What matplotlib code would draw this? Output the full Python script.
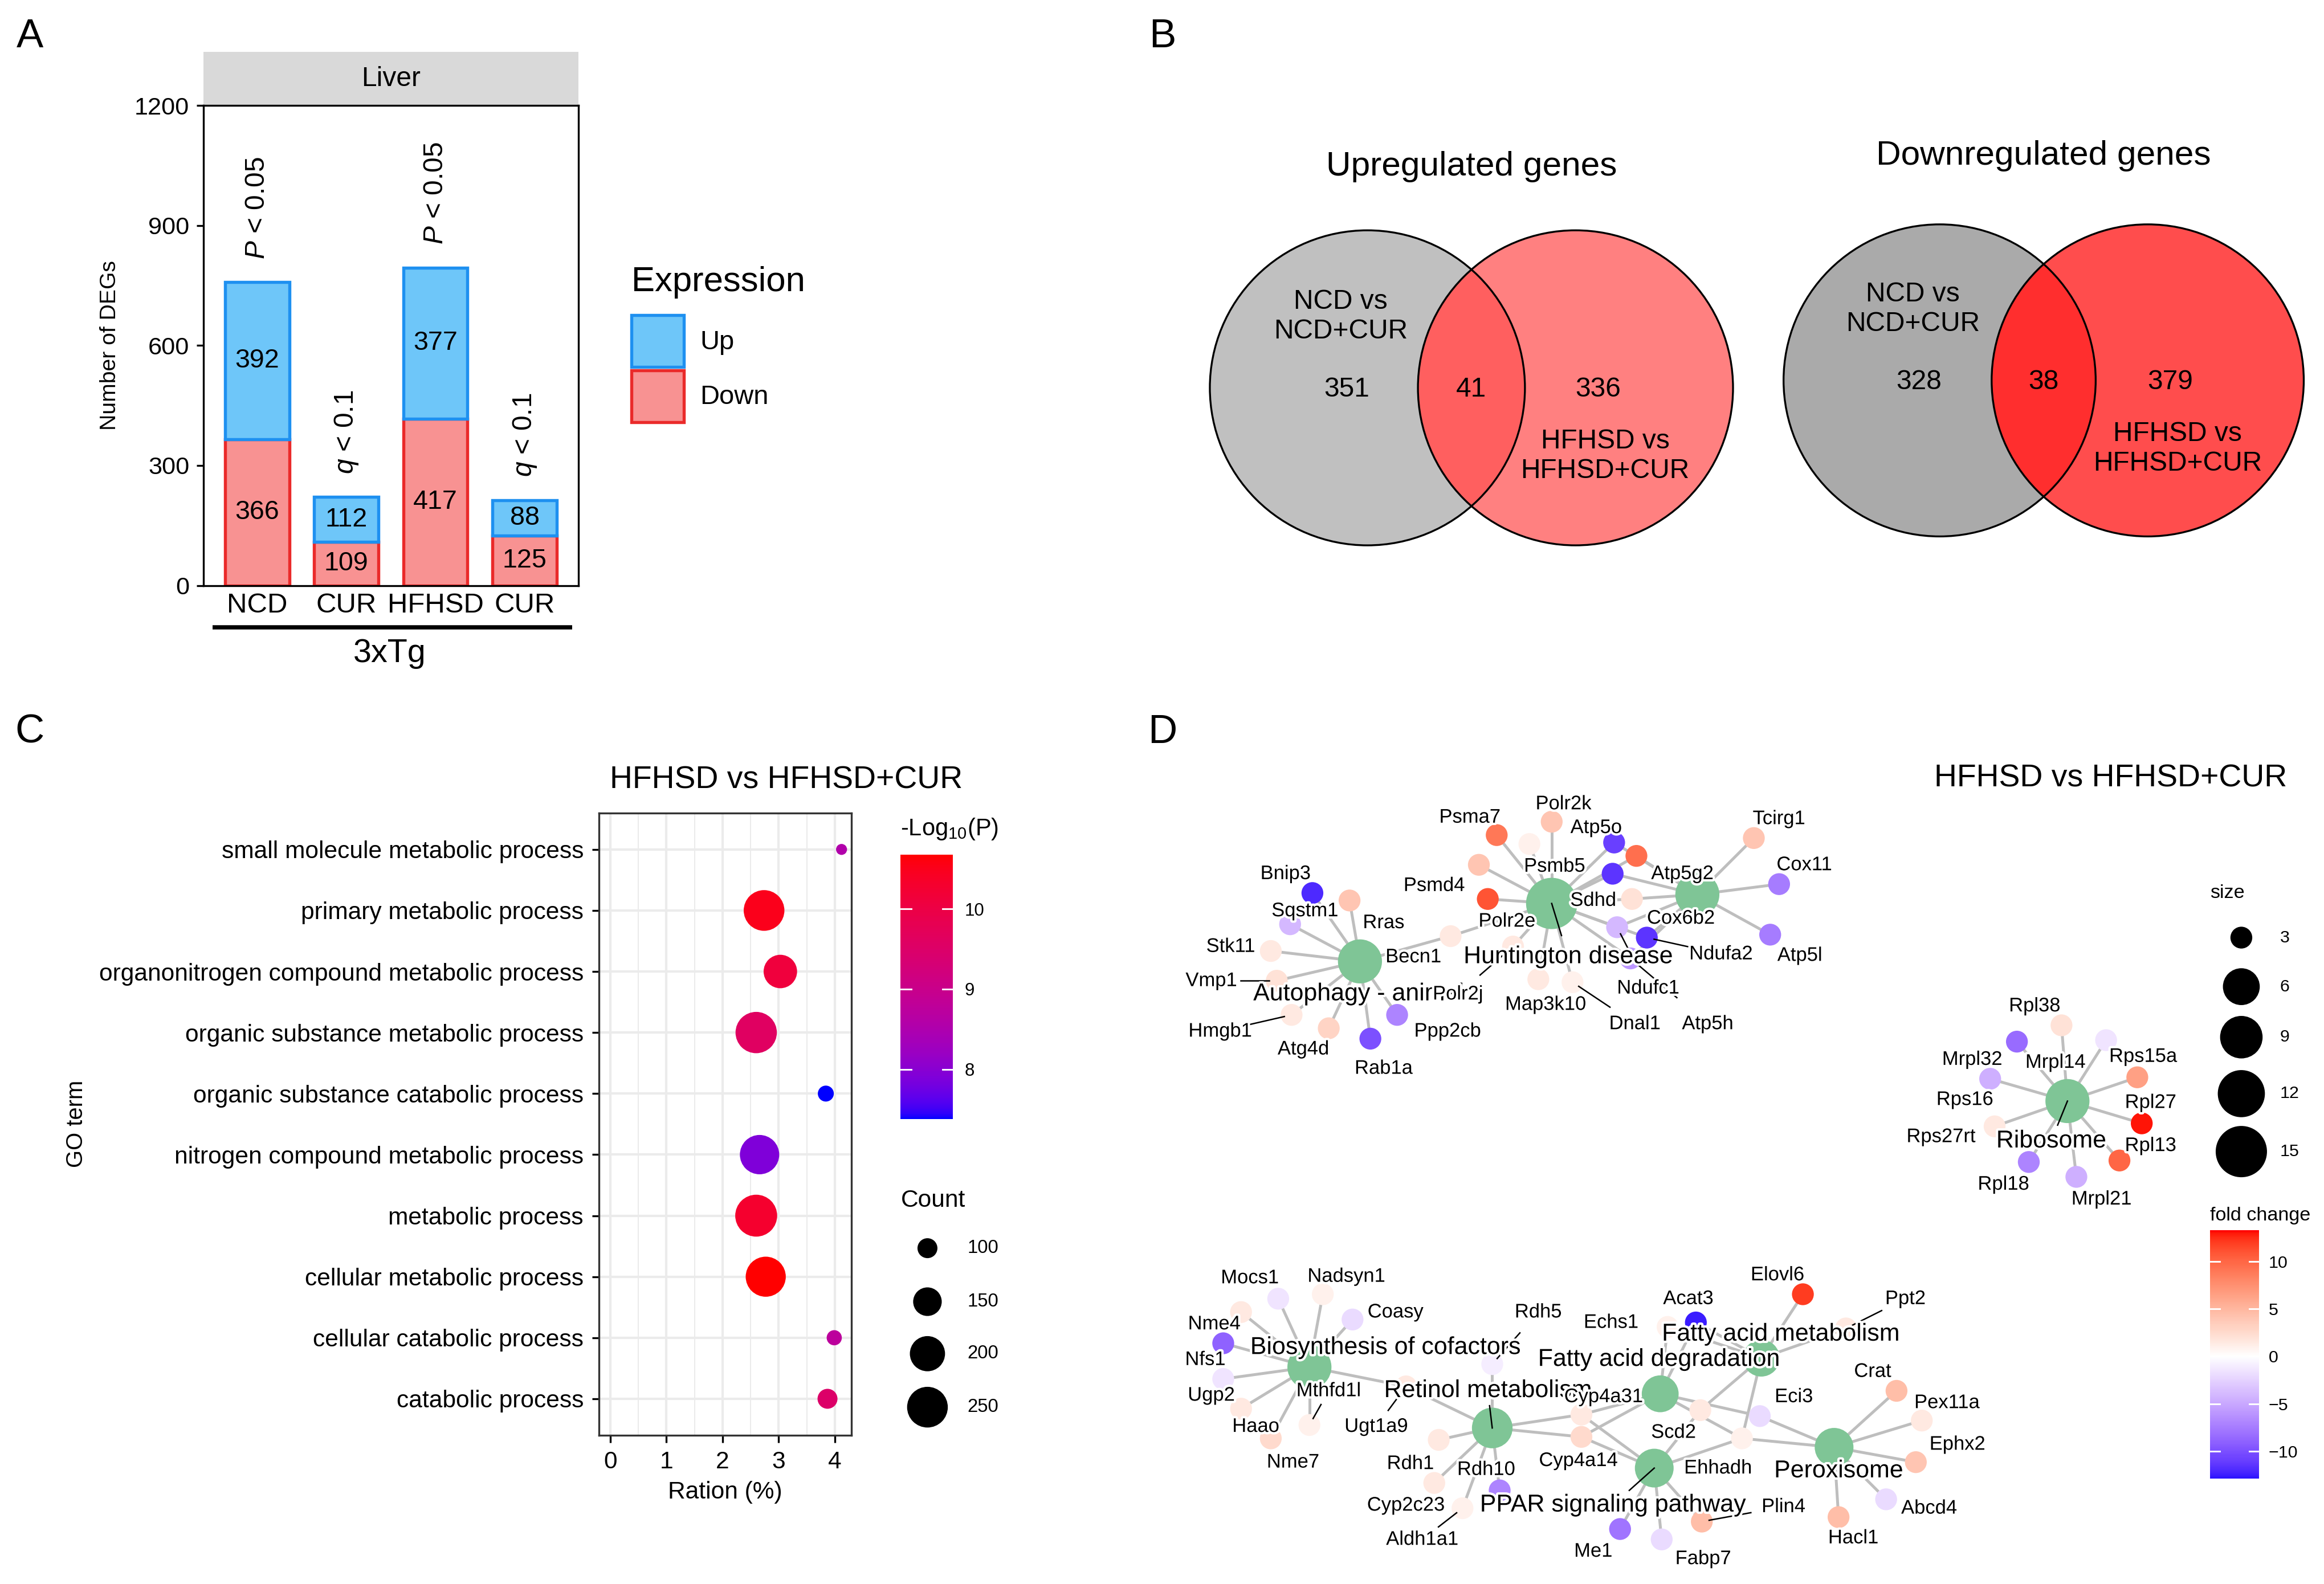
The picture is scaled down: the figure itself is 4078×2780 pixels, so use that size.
import numpy as np
import matplotlib
matplotlib.use('Agg')
import matplotlib.pyplot as plt
from matplotlib.colors import ListedColormap, Normalize
from matplotlib.cm import ScalarMappable
from matplotlib.patches import Circle, Rectangle, Patch
import matplotlib.patheffects as pe

plt.rcParams['font.family'] = ['Liberation Sans', 'DejaVu Sans']
plt.rcParams['mathtext.fontset'] = 'custom'
plt.rcParams['mathtext.rm'] = 'Liberation Sans'
plt.rcParams['mathtext.it'] = 'Liberation Sans:italic'

# ---------------- data ----------------
# A: number of DEGs
groups = ['NCD', 'CUR', 'HFHSD', 'CUR']
deg_down = [366, 109, 417, 125]
deg_up = [392, 112, 377, 88]
cutoffs = ['$P$ < 0.05', '$q$ < 0.1', '$P$ < 0.05', '$q$ < 0.1']

# B: venn counts
venn_titles = ['Upregulated genes', 'Downregulated genes']
only_ncd = [351, 328]
shared = [41, 38]
only_hfhsd = [336, 379]

# C: GO enrichment (top to bottom)
go_terms = ['small molecule metabolic process', 'primary metabolic process',
            'organonitrogen compound metabolic process', 'organic substance metabolic process',
            'organic substance catabolic process', 'nitrogen compound metabolic process',
            'metabolic process', 'cellular metabolic process', 'cellular catabolic process',
            'catabolic process']
go_ratio = [4.12, 2.74, 3.03, 2.60, 3.84, 2.66, 2.60, 2.77, 3.99, 3.87]
go_count = [67, 250, 186, 256, 83, 237, 262, 244, 80, 100]
go_logp = [8.55, 10.5, 10.1, 9.6, 7.38, 7.9, 10.3, 10.68, 8.75, 9.5]

# D: KEGG gene-concept network
pathways = {
    'Autophagy - animal': ['Bnip3', 'Rras', 'Sqstm1', 'Stk11', 'Vmp1', 'Hmgb1', 'Atg4d',
                           'Rab1a', 'Ppp2cb', 'Becn1'],
    'Huntington disease': ['Becn1', 'Psma7', 'Polr2k', 'Psmb5', 'Psmd4', 'Polr2e', 'Polr2j',
                           'Map3k10', 'Dnal1', 'Atp5o', 'Atp5g2', 'Cox6b2', 'Sdhd', 'Ndufc1',
                           'Ndufa2', 'Atp5h'],
    'Oxidative phosphorylation': ['Atp5o', 'Atp5g2', 'Cox6b2', 'Sdhd', 'Ndufc1', 'Ndufa2',
                                  'Atp5h', 'Tcirg1', 'Cox11', 'Atp5l'],
    'Ribosome': ['Rpl38', 'Mrpl32', 'Mrpl14', 'Rps15a', 'Rpl27', 'Rpl13', 'Mrpl21', 'Rpl18',
                 'Rps27rt', 'Rps16'],
    'Biosynthesis of cofactors': ['Mocs1', 'Nadsyn1', 'Coasy', 'Nme4', 'Nfs1', 'Ugp2', 'Haao',
                                  'Nme7', 'Mthfd1l', 'Ugt1a9'],
    'Retinol metabolism': ['Ugt1a9', 'Rdh5', 'Rdh1', 'Cyp2c23', 'Rdh10', 'Aldh1a1', 'Cyp4a14',
                           'Cyp4a31'],
    'Fatty acid degradation': ['Cyp4a14', 'Cyp4a31', 'Echs1', 'Acat3', 'Eci3', 'Ehhadh'],
    'Fatty acid metabolism': ['Echs1', 'Acat3', 'Elovl6', 'Ppt2', 'Scd2', 'Ehhadh'],
    'PPAR signaling pathway': ['Cyp4a14', 'Cyp4a31', 'Scd2', 'Ehhadh', 'Me1', 'Fabp7', 'Plin4'],
    'Peroxisome': ['Ehhadh', 'Eci3', 'Crat', 'Pex11a', 'Ephx2', 'Abcd4', 'Hacl1'],
}
fold_change = {
    'Bnip3': -12, 'Rras': 4, 'Sqstm1': -4, 'Stk11': 1.5, 'Vmp1': 2, 'Hmgb1': 1.5, 'Atg4d': 3,
    'Rab1a': -10, 'Ppp2cb': -7, 'Becn1': 1.5, 'Psma7': 9, 'Polr2k': 4, 'Psmb5': 1, 'Psmd4': 4,
    'Polr2e': 11, 'Polr2j': 1.5, 'Map3k10': 1.5, 'Dnal1': 1, 'Atp5o': -11, 'Atp5g2': 9.5,
    'Cox6b2': -11.5, 'Sdhd': 2, 'Ndufc1': -4, 'Ndufa2': -11.5, 'Atp5h': -6, 'Tcirg1': 4,
    'Cox11': -7.5, 'Atp5l': -7.5,
    'Rpl38': 2, 'Mrpl32': -8.5, 'Mrpl14': -1.5, 'Rps15a': 6.5, 'Rpl27': 13, 'Rpl13': 10,
    'Mrpl21': -4.5, 'Rpl18': -7, 'Rps27rt': 1.5, 'Rps16': -4.5,
    'Mocs1': -1.5, 'Nadsyn1': 1, 'Coasy': -2, 'Nme4': 1.5, 'Nfs1': -9, 'Ugp2': -1.5,
    'Haao': 1.5, 'Nme7': 2.5, 'Mthfd1l': 1, 'Ugt1a9': 1.5, 'Rdh5': -1, 'Rdh1': 1.5,
    'Cyp2c23': 1.5, 'Rdh10': -7, 'Aldh1a1': 1, 'Cyp4a14': 2.5, 'Cyp4a31': 1.5, 'Echs1': 1,
    'Acat3': -12.5, 'Elovl6': 12, 'Ppt2': 1.5, 'Eci3': -2, 'Scd2': 1.5, 'Ehhadh': 1,
    'Me1': -8, 'Fabp7': -2, 'Plin4': 4.5, 'Crat': 4.5, 'Pex11a': 1.5, 'Ephx2': 4,
    'Abcd4': -2, 'Hacl1': 4.5,
}

# ---------------- layout (page grid 1564 x 1066) ----------------
W, H = 1564.0, 1066.0
PT = 0.626  # grid px -> points

node_xy = {
    'Autophagy - animal': (915, 647), 'Huntington disease': (1044, 608),
    'Oxidative phosphorylation': (1142, 602), 'Ribosome': (1391, 741),
    'Biosynthesis of cofactors': (881, 920), 'Retinol metabolism': (1004, 961),
    'Fatty acid degradation': (1117, 938), 'Fatty acid metabolism': (1185, 914),
    'PPAR signaling pathway': (1113, 988), 'Peroxisome': (1234, 974),
    'Bnip3': (883, 601), 'Rras': (908, 606), 'Sqstm1': (868, 622), 'Stk11': (855, 640),
    'Vmp1': (859, 660), 'Hmgb1': (869, 683), 'Atg4d': (894, 692), 'Rab1a': (922, 699),
    'Ppp2cb': (940, 683), 'Becn1': (976, 630), 'Psma7': (1007, 562), 'Polr2k': (1044, 553),
    'Psmb5': (1029, 568), 'Atp5o': (1086, 567), 'Atp5g2': (1101, 576), 'Cox6b2': (1085, 588),
    'Psmd4': (995, 582), 'Polr2e': (1001, 605), 'Sdhd': (1098, 605), 'Ndufc1': (1088, 624),
    'Ndufa2': (1108, 631), 'Atp5h': (1097, 645), 'Polr2j': (1018, 637), 'Map3k10': (1035, 659),
    'Dnal1': (1058, 661), 'Tcirg1': (1180, 564), 'Cox11': (1197, 595), 'Atp5l': (1191, 629),
    'Rpl38': (1387, 690), 'Mrpl32': (1357, 701), 'Mrpl14': (1417, 700), 'Rps15a': (1438, 725),
    'Rpl27': (1441, 756), 'Rpl13': (1426, 781), 'Mrpl21': (1397, 792), 'Rpl18': (1365, 782),
    'Rps27rt': (1342, 758), 'Rps16': (1339, 726),
    'Mocs1': (860, 874), 'Nadsyn1': (890, 871), 'Coasy': (910, 888), 'Nme4': (835, 883),
    'Nfs1': (823, 904), 'Ugp2': (823, 928), 'Haao': (835, 948), 'Nme7': (855, 968),
    'Mthfd1l': (881, 959), 'Ugt1a9': (946, 933), 'Rdh5': (1004, 918), 'Rdh1': (968, 969),
    'Cyp2c23': (965, 998), 'Rdh10': (1009, 1003), 'Aldh1a1': (984, 1015),
    'Cyp4a14': (1064, 967), 'Cyp4a31': (1064, 952), 'Echs1': (1122, 893), 'Acat3': (1141, 890),
    'Elovl6': (1213, 871), 'Ppt2': (1242, 894), 'Eci3': (1184, 953), 'Scd2': (1144, 949),
    'Ehhadh': (1172, 968), 'Me1': (1090, 1029), 'Fabp7': (1118, 1036), 'Plin4': (1145, 1024),
    'Crat': (1276, 936), 'Pex11a': (1293, 956), 'Ephx2': (1289, 984), 'Abcd4': (1269, 1009),
    'Hacl1': (1237, 1021),
}
label_xy = {
    'Autophagy - animal': (914, 669), 'Huntington disease': (1055, 644), 'Ribosome': (1380, 768),
    'Biosynthesis of cofactors': (932, 907), 'Retinol metabolism': (1001, 936),
    'Fatty acid degradation': (1116, 915), 'Fatty acid metabolism': (1198, 898),
    'PPAR signaling pathway': (1085, 1013), 'Peroxisome': (1237, 990),
    'Bnip3': (865, 588), 'Rras': (931, 621), 'Sqstm1': (878, 613), 'Stk11': (828, 637),
    'Vmp1': (815, 660), 'Hmgb1': (821, 694), 'Atg4d': (877, 706), 'Rab1a': (931, 719),
    'Ppp2cb': (974, 694), 'Becn1': (951, 644), 'Psma7': (989, 550), 'Polr2k': (1052, 541),
    'Psmb5': (1046, 583), 'Atp5o': (1074, 557), 'Atp5g2': (1132, 588), 'Cox6b2': (1131, 618),
    'Psmd4': (965, 596), 'Polr2e': (1014, 620), 'Sdhd': (1072, 606), 'Ndufc1': (1109, 665),
    'Ndufa2': (1158, 642), 'Atp5h': (1149, 689), 'Polr2j': (981, 669), 'Map3k10': (1040, 676),
    'Dnal1': (1100, 689), 'Tcirg1': (1197, 551), 'Cox11': (1214, 582), 'Atp5l': (1211, 643),
    'Rpl38': (1369, 677), 'Mrpl32': (1327, 713), 'Mrpl14': (1383, 715), 'Rps15a': (1442, 711),
    'Rpl27': (1447, 742), 'Rpl13': (1447, 771), 'Mrpl21': (1414, 807), 'Rpl18': (1348, 797),
    'Rps27rt': (1306, 765), 'Rps16': (1322, 740),
    'Mocs1': (841, 860), 'Nadsyn1': (906, 859), 'Coasy': (939, 883), 'Nme4': (817, 891),
    'Nfs1': (811, 915), 'Ugp2': (815, 939), 'Haao': (845, 960), 'Nme7': (870, 984),
    'Mthfd1l': (894, 936), 'Ugt1a9': (926, 960), 'Rdh5': (1035, 883), 'Rdh1': (949, 985),
    'Cyp2c23': (946, 1013), 'Rdh10': (1000, 989), 'Aldh1a1': (957, 1036),
    'Cyp4a14': (1062, 983), 'Cyp4a31': (1079, 940), 'Echs1': (1084, 890), 'Acat3': (1136, 874),
    'Elovl6': (1196, 858), 'Ppt2': (1282, 874), 'Eci3': (1207, 940), 'Scd2': (1126, 964),
    'Ehhadh': (1156, 988), 'Me1': (1072, 1044), 'Fabp7': (1146, 1049), 'Plin4': (1200, 1014),
    'Crat': (1260, 923), 'Pex11a': (1310, 944), 'Ephx2': (1317, 972), 'Abcd4': (1298, 1015),
    'Hacl1': (1247, 1035),
}
with_segment = ['Huntington disease', 'Ribosome', 'Retinol metabolism', 'PPAR signaling pathway',
                'Vmp1', 'Hmgb1', 'Ndufc1', 'Ndufa2', 'Atp5h', 'Dnal1', 'Polr2j', 'Mthfd1l',
                'Ugt1a9', 'Rdh5', 'Aldh1a1', 'Plin4', 'Ppt2']


def box(x0, y0, x1, y1):
    return [x0 / W, 1 - y1 / H, (x1 - x0) / W, (y1 - y0) / H]


def lab_ramp(stops, n=256):
    # ggplot-like colour ramp interpolated in CIELAB
    stops = np.array(stops, float)
    t = np.linspace(0, 1, n)
    pos = np.linspace(0, 1, len(stops))
    L = np.interp(t, pos, stops[:, 0])
    a = np.interp(t, pos, stops[:, 1])
    b = np.interp(t, pos, stops[:, 2])
    fy = (L + 16) / 116
    fx = fy + a / 500
    fz = fy - b / 200
    def finv(f):
        return np.where(f > 6 / 29, f ** 3, 3 * (6 / 29) ** 2 * (f - 4 / 29))
    X, Y, Z = 0.95047 * finv(fx), finv(fy), 1.08883 * finv(fz)
    r = 3.2406 * X - 1.5372 * Y - 0.4986 * Z
    g = -0.9689 * X + 1.8758 * Y + 0.0415 * Z
    bb = 0.0557 * X - 0.2040 * Y + 1.0570 * Z
    rgb = np.clip(np.stack([r, g, bb], 1), 0, 1)
    rgb = np.where(rgb <= 0.0031308, 12.92 * rgb, 1.055 * rgb ** (1 / 2.4) - 0.055)
    return ListedColormap(np.clip(rgb, 0, 1))


LAB_BLUE = (32.30, 79.19, -107.86)
LAB_RED = (53.24, 80.09, 67.20)
LAB_WHITE = (100, 0, 0)
p_cmap = lab_ramp([LAB_BLUE, LAB_RED])
fc_cmap = lab_ramp([LAB_BLUE, LAB_WHITE, LAB_RED])

fig = plt.figure(figsize=(4079 / 300, 2780 / 300), dpi=300)
ov = fig.add_axes([0, 0, 1, 1])
ov.set_xlim(0, W)
ov.set_ylim(H, 0)
ov.axis('off')

for letter, (lx, ly) in zip('ABCD', [(20, 25), (782, 25), (20, 493), (782, 493)]):
    ov.text(lx, ly, letter, fontsize=17, ha='center', va='center')

# ---------------- A ----------------
up_fill, up_edge = '#6EC6F9', '#1E90F0'
down_fill, down_edge = '#F89292', '#EA2A2A'
axA = fig.add_axes(box(137, 71, 389, 394))
xpos = np.arange(1, len(groups) + 1)
axA.bar(xpos, deg_down, width=0.72, color=down_fill, edgecolor=down_edge, linewidth=1.3)
axA.bar(xpos, deg_up, bottom=deg_down, width=0.72, color=up_fill, edgecolor=up_edge, linewidth=1.3)
for i in range(len(groups)):
    axA.text(xpos[i], deg_down[i] / 2, str(deg_down[i]), ha='center', va='center', fontsize=11.2)
    axA.text(xpos[i], deg_down[i] + deg_up[i] / 2, str(deg_up[i]), ha='center', va='center',
             fontsize=11.2)
    axA.text(xpos[i], deg_down[i] + deg_up[i] + 58, cutoffs[i], rotation=90, ha='center',
             va='bottom', fontsize=11.5)
axA.set_xlim(0.4, 4.6)
axA.set_ylim(0, 1200)
axA.set_yticks([0, 300, 600, 900, 1200])
axA.set_xticks(xpos)
axA.set_xticklabels(groups, fontsize=11.8)
axA.tick_params(axis='x', length=0, pad=3)
axA.tick_params(axis='y', labelsize=10.4, length=3, width=0.8, pad=3)
axA.set_ylabel('Number of DEGs', fontsize=9.4, labelpad=6)
for s in axA.spines.values():
    s.set_linewidth(0.8)
ov.add_patch(Rectangle((137, 35), 252, 36, color='#D9D9D9', lw=0))
ov.text(263, 53, 'Liver', fontsize=11.5, ha='center', va='center')
ov.plot([143, 385], [422, 422], color='black', lw=1.8, solid_capstyle='butt')
ov.text(262, 440, '3xTg', fontsize=13.8, ha='center', va='center')
handles = [Patch(facecolor=up_fill, edgecolor=up_edge, lw=1.3, label='Up'),
           Patch(facecolor=down_fill, edgecolor=down_edge, lw=1.3, label='Down')]
ov.text(425, 190, 'Expression', fontsize=14.8, ha='left', va='center')
axA.legend(handles=handles, loc='upper left', bbox_to_anchor=(425 / W, 1 - 212 / H),
           bbox_transform=fig.transFigure, frameon=False, fontsize=11.3,
           handlelength=1.95, handleheight=2.6, labelspacing=0.12, handletextpad=0.6,
           borderpad=0, borderaxespad=0)

# ---------------- B ----------------
venn_layout = [(920, 261, 140, 106), (1305, 256, 140, 105)]
venn_title_y = [112, 105]
venn_cols = [('#C0C0C0', '#FF8080', '#FF5F5F'), ('#AAAAAA', '#FF4D4D', '#FF2E2E')]
for i in range(2):
    x0, y0, gap, r = venn_layout[i]
    c_left, c_right, c_mid = venn_cols[i]
    ov.add_patch(Circle((x0, y0), r, fc=c_left, ec='none'))
    ov.add_patch(Circle((x0 + gap, y0), r, fc=c_right, ec='none'))
    mid = Circle((x0 + gap, y0), r, fc=c_mid, ec='none')
    ov.add_patch(mid)
    mid.set_clip_path(Circle((x0, y0), r, transform=ov.transData))
    for cx in (x0, x0 + gap):
        ov.add_patch(Circle((cx, y0), r, fc='none', ec='black', lw=0.8))
    ov.text(x0 + gap / 2, venn_title_y[i], venn_titles[i], fontsize=14.5,
            ha='center', va='center')
    ov.text(x0 - 18, y0 - 48, 'NCD vs\nNCD+CUR', fontsize=11.5, ha='center', va='center',
            linespacing=1.22)
    ov.text(x0 - 14, y0 + 1, str(only_ncd[i]), fontsize=11.5, ha='center', va='center')
    ov.text(x0 + gap / 2, y0 + 1, str(shared[i]), fontsize=11.5, ha='center', va='center')
    ov.text(x0 + gap + 15, y0 + 1, str(only_hfhsd[i]), fontsize=11.5, ha='center', va='center')
    ov.text(x0 + gap + 20, y0 + 46, 'HFHSD vs\nHFHSD+CUR', fontsize=11.5, ha='center',
            va='center', linespacing=1.22)

# ---------------- C ----------------
def count_size(v):
    d = np.sqrt(np.maximum(3.8 * np.asarray(v, float) - 200, 4))
    return (d * PT) ** 2


p_norm = Normalize(7.38, 10.68)
axC = fig.add_axes(box(403, 547, 573, 966))
yC = np.arange(len(go_terms))[::-1]
axC.scatter(go_ratio, yC, s=count_size(go_count), c=go_logp, cmap=p_cmap, norm=p_norm,
            linewidths=0, zorder=3)
axC.set_xlim(-0.2, 4.3)
axC.set_ylim(-0.6, len(go_terms) - 0.4)
axC.set_yticks(yC)
axC.set_yticklabels(go_terms, fontsize=10.3)
axC.set_xticks(range(5))
axC.set_xticks(np.arange(0.5, 4.5, 1), minor=True)
axC.grid(which='major', color='#EBEBEB', lw=1.0)
axC.grid(which='minor', axis='x', color='#EBEBEB', lw=0.5)
axC.tick_params(which='minor', length=0)
axC.tick_params(which='major', length=3, width=0.8, labelsize=10.2, pad=3.5)
axC.set_axisbelow(True)
axC.set_xlabel('Ration (%)', fontsize=10.2, labelpad=3)
axC.set_ylabel('GO term', fontsize=9.6, labelpad=5)
for s in axC.spines.values():
    s.set_color('#333333')
    s.set_linewidth(0.8)
ov.text(529, 525, 'HFHSD vs HFHSD+CUR', fontsize=13.3, ha='center', va='center')

caxC = fig.add_axes(box(606, 575, 641, 753))
cbC = fig.colorbar(ScalarMappable(norm=p_norm, cmap=p_cmap), cax=caxC, ticks=[8, 9, 10])
cbC.outline.set_visible(False)
caxC.tick_params(length=0, labelsize=7.5, pad=5)
for t in [8, 9, 10]:
    caxC.axhline(t, xmin=0, xmax=0.2, color='white', lw=0.7)
    caxC.axhline(t, xmin=0.8, xmax=1, color='white', lw=0.7)
ov.text(606, 558, '-Log$_{10}$(P)', fontsize=10, ha='left', va='center')
ov.text(606, 808, 'Count', fontsize=10.2, ha='left', va='center')
count_breaks = [100, 150, 200, 250]
count_y = [840, 876, 911, 947]
ov.scatter([624] * 4, count_y, s=count_size(count_breaks), color='black', linewidths=0)
for v, yy in zip(count_breaks, count_y):
    ov.text(651, yy, str(v), fontsize=7.9, ha='left', va='center')

# ---------------- D ----------------
ov.text(1420, 524, 'HFHSD vs HFHSD+CUR', fontsize=13.3, ha='center', va='center')
size_breaks = [3, 6, 9, 12, 15]
size_diam = [14.7, 24.8, 28.6, 31.7, 34.5]
halo = [pe.withStroke(linewidth=2, foreground='white')]

for cat, genes in pathways.items():
    cx, cy = node_xy[cat]
    for g in genes:
        gx, gy = node_xy[g]
        ov.plot([cx, gx], [cy, gy], color='#BEBEBE', lw=1.2, zorder=1)

genes_all = list(fold_change.keys())
fc_norm = Normalize(-13.3, 13.3)
ov.scatter([node_xy[g][0] for g in genes_all], [node_xy[g][1] for g in genes_all],
           s=(14.7 * PT) ** 2, c=[fold_change[g] for g in genes_all], cmap=fc_cmap,
           norm=fc_norm, linewidths=0, zorder=2)
cats = list(pathways.keys())
cat_d = np.interp([len(pathways[c]) for c in cats], size_breaks, size_diam)
ov.scatter([node_xy[c][0] for c in cats], [node_xy[c][1] for c in cats], s=(cat_d * PT) ** 2,
           color='#7FC596', linewidths=0, zorder=2)


def connector(name, frac=0.4):
    lx, ly = label_xy[name]
    nx, ny = node_xy[name]
    d = np.hypot(nx - lx, ny - ly)
    ux, uy = (nx - lx) / d, (ny - ly) / d
    end = 0 if name in pathways else 5
    ov.plot([lx + ux * d * frac, nx - ux * end], [ly + uy * d * frac, ny - uy * end],
            color='black', lw=0.6, zorder=3)


for name in with_segment:
    connector(name, 0.45 if name in ['Ndufa2', 'Vmp1'] else 0.4)
for cat in cats:
    if cat in label_xy:
        ov.text(*label_xy[cat], cat, fontsize=10.3, ha='center', va='center', zorder=4,
                path_effects=halo)
for g in genes_all:
    ov.text(*label_xy[g], g, fontsize=8.3, ha='center', va='center', zorder=5,
            path_effects=halo)

# size legend
ov.text(1487, 601, 'size', fontsize=8.2, ha='left', va='center')
size_y = [631, 664, 698, 736, 775]
ov.scatter([1508] * 5, size_y, s=(np.array(size_diam) * PT) ** 2, color='black', linewidths=0)
for v, yy in zip(size_breaks, size_y):
    ov.text(1534, yy, str(v), fontsize=7.3, ha='left', va='center')

ov.text(1487, 818, 'fold change', fontsize=8.2, ha='left', va='center')
caxD = fig.add_axes(box(1487, 828, 1520, 995))
cbD = fig.colorbar(ScalarMappable(norm=fc_norm, cmap=fc_cmap), cax=caxD,
                   boundaries=np.linspace(-12.9, 13.3, 257), ticks=[-10, -5, 0, 5, 10])
cbD.outline.set_visible(False)
caxD.tick_params(length=0, labelsize=7.3, pad=4)
for t in [-10, -5, 0, 5, 10]:
    caxD.axhline(t, xmin=0, xmax=0.2, color='white', lw=0.7)
    caxD.axhline(t, xmin=0.8, xmax=1, color='white', lw=0.7)

fig.savefig('out.png', dpi=300, facecolor='white')
